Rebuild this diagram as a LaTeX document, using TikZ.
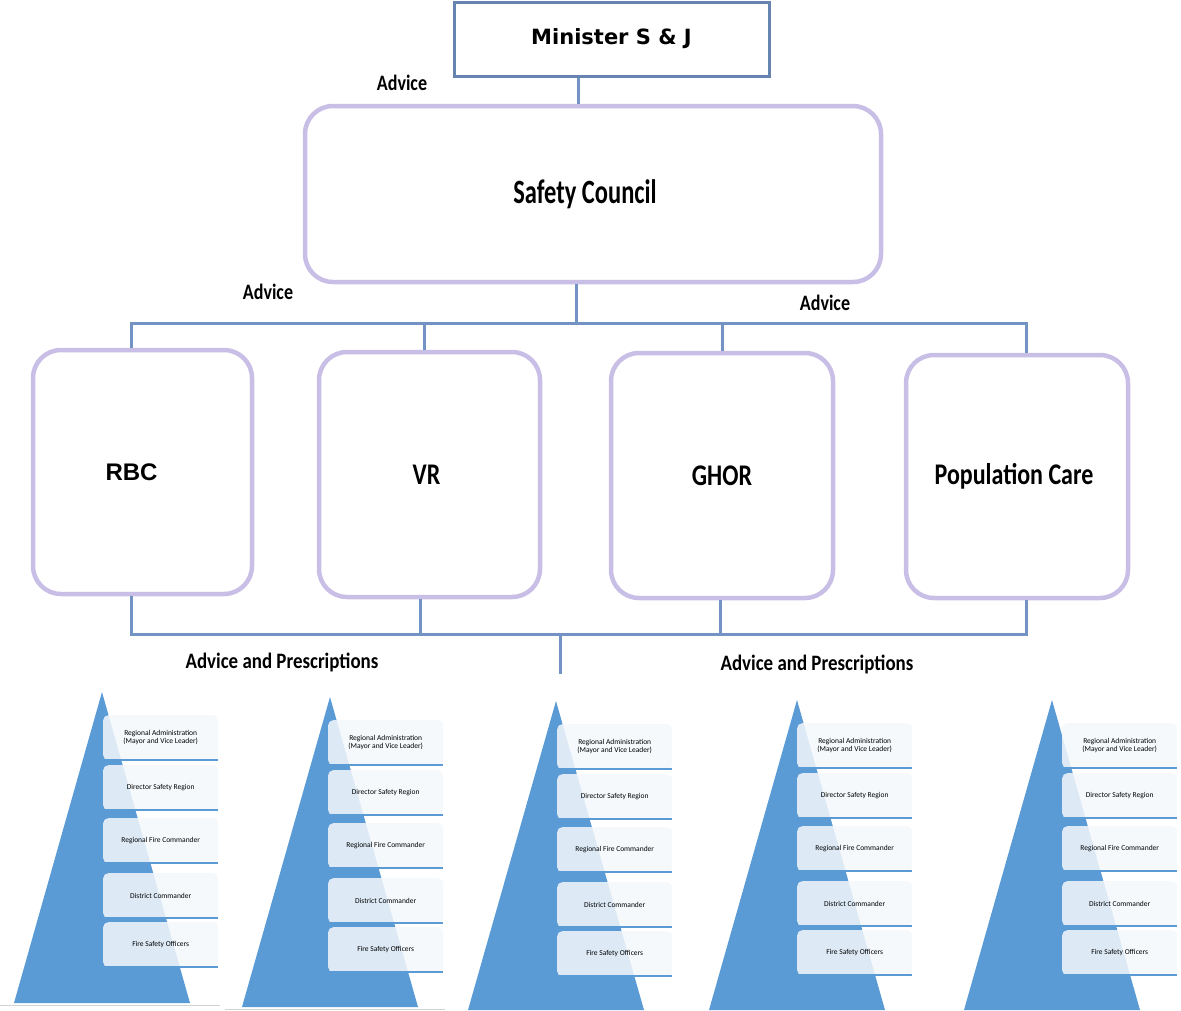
\documentclass[tikz,border=0pt]{standalone}
\usepackage{fontspec}
\usepackage{graphicx}
\setmainfont{Carlito}
\newfontfamily\verdana{DejaVu Sans}
\newfontfamily\arial{Liberation Sans}
\usetikzlibrary{positioning,calc}
\definecolor{linkblue}{HTML}{7393C4}
\definecolor{lavender}{HTML}{C9BFE6}
\definecolor{pyrblue}{HTML}{5B9BD5}
\definecolor{stepfill}{HTML}{F4F8FC}
\newcommand\nar[2][.8]{\scalebox{#1}[1]{#2}}
\tikzset{
  link/.style={draw=linkblue, line width=3pt},
  orgbox/.style={draw=lavender, line width=4.5pt, rounded corners=28pt, fill=white,
    font=\bfseries\fontsize{30}{32}\selectfont},
  tag/.style={font=\bfseries\fontsize{22}{24}\selectfont, inner sep=0pt},
  stepbox/.style={fill=stepfill, fill opacity=.85, text opacity=1, rounded corners=5pt,
    minimum width=115pt, minimum height=45pt, inner sep=1pt, align=center,
    font=\fontsize{7.5}{8.5}\selectfont},
  stepline/.style={draw=pyrblue, line width=2pt},
}

\begin{document}
\begin{tikzpicture}[x=1pt, y=-1pt]
\useasboundingbox (0,0) rectangle (1181,1010);

% organisation chart
\node[draw=linkblue!90!black, line width=3pt, fill=white, minimum width=315pt, minimum height=74pt,
  font=\verdana\bfseries\fontsize{21}{24}\selectfont] (minister) at (611.5,39) {Minister S \& J};
\node[orgbox, minimum width=576pt, minimum height=176pt,
  font=\bfseries\fontsize{34}{36}\selectfont] (council) at (593,194) {\nar[.72]{Safety Council}\kern16pt};

\node[orgbox, minimum width=219pt, minimum height=244pt,
  font=\arial\bfseries\fontsize{24}{26}\selectfont] (rbc) at (142.5,472) {RBC\kern22pt};
\node[orgbox, minimum width=221pt, minimum height=245pt] (vr) at (429.5,474.5) {\nar{VR}\kern6pt};
\node[orgbox, minimum width=222pt, minimum height=245pt] (ghor) at (722,475.5) {\nar{GHOR}};
\node[orgbox, minimum width=222pt, minimum height=243pt] (pop) at (1017,476.5) {\nar{Population Care}\kern6pt};

\coordinate (hub) at (576,323);
\coordinate (al) at (131,323);
\coordinate (ar) at (1026,323);
\coordinate (bl) at (131,634);
\coordinate (br) at (1026,634);
\coordinate (feed) at (560,674);

\draw[link] (minister.south -| 578,0) -- (council.north -| 578,0);
\draw[link] (council.south -| hub) -- (hub);
\draw[link] (rbc.north -| al) -- (al) -- (ar) -- (pop.north -| ar);
\foreach \n/\x in {vr/424, ghor/722}
  \draw[link] (\n.north -| \x,0) -- (\x,323);
\draw[link] (rbc.south -| bl) -- (bl) -- (br) -- (pop.south -| br);
\foreach \n/\x in {vr/420, ghor/720}
  \draw[link] (\n.south -| \x,0) -- (\x,634);
\draw[link] (feed |- bl) -- (feed);

\node[tag] (adv1) at (402,83) {\nar[.82]{Advice}};
\node[tag] (adv2) at (268,292) {\nar[.82]{Advice}};
\node[tag] (adv3) at (825,303) {\nar[.82]{Advice}};
\node[tag] (presc1) at (282,662) {\nar[.86]{Advice and Prescriptions}};
\node[tag] (presc2) at (817,664) {\nar[.86]{Advice and Prescriptions}};

% pyramids
\foreach \i/\ax/\ay/\by/\bx in {1/102/692/1003/103, 2/330/697/1007/328, 3/556/701/1010/557,
    4/797/700/1010/797, 5/1052/700/1010/1062}{
  \fill[pyrblue] (\ax,\ay) -- (\ax-88,\by) -- (\ax+88,\by) -- cycle;
  \draw[gray!35, line width=1pt] (\bx-103,\by+2) -- (\bx+117,\by+2);
  \foreach \j/\dy/\txt in {1/23/{Regional Administration\\(Mayor and Vice Leader)},
      2/73/{Director Safety Region}, 3/126/{Regional Fire Commander},
      4/181/{District Commander}, 5/230/{Fire Safety Officers}}{
    \node[stepbox, anchor=north west] (p\i s\j) at (\bx,\ay+\dy) {\txt};
    \draw[stepline] (p\i s\j.south west) -- (p\i s\j.south east);
  }
}
\end{tikzpicture}
\end{document}
